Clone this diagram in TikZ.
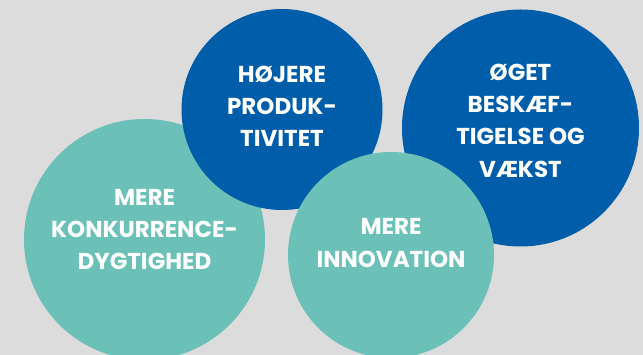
\documentclass[tikz,border=0pt]{standalone}
\usepackage{fontspec}
\setmainfont{Poppins}
\usepackage{xcolor}
\definecolor{mybg}{RGB}{220,220,220}
\definecolor{myteal}{RGB}{107,193,183}
\definecolor{myblue}{RGB}{0,93,169}

\begin{document}
\begin{tikzpicture}[x=1pt,y=-1pt,
  bubble/.style={circle, inner sep=0pt, minimum size=#1},
  bubbletext/.style={align=center, text=white, font=\fontsize{23}{32.3}\selectfont\bfseries}]
%Hintergrund
\useasboundingbox[fill=mybg] (0,0) rectangle (643,355);
\clip (0,0) rectangle (643,355);

%Kreise
\node[bubble=241pt, fill=myteal] (konk) at (144.5,239.5) {};
\node[bubble=201pt, fill=myblue] (prod) at (282,109.5) {};
\node[bubble=237pt, fill=myblue] (besk) at (520.5,128) {};
\node[bubble=206pt, fill=myteal] (inno) at (391,255) {};

%Beschriftung
\node[bubbletext] (konktext) at ([yshift=10pt]konk.center) {MERE\\KONKURRENCE-\\DYGTIGHED};
\node[bubbletext] (prodtext) at ([yshift=3pt]prod.center) {HØJERE\\PRODUK-\\TIVITET};
\node[bubbletext] (besktext) at ([yshift=7.5pt]besk.center) {ØGET\\BESKÆF-\\TIGELSE OG\\VÆKST};
\node[bubbletext] (innotext) at ([yshift=12pt]inno.center) {MERE\\INNOVATION};

\end{tikzpicture}
\end{document}
